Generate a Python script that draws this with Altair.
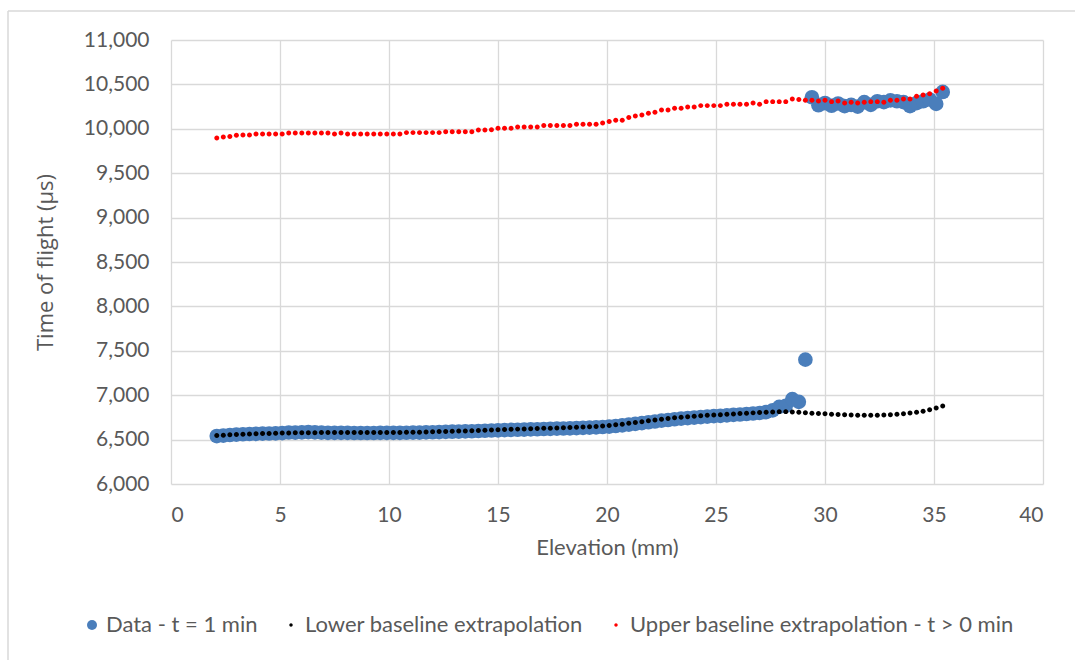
import altair as alt
import pandas as pd

elevation = [
    2.1, 2.4, 2.7, 3.0, 3.3, 3.6, 3.9, 4.2, 4.5, 4.8,
    5.1, 5.4, 5.7, 6.0, 6.3, 6.6, 6.9, 7.2, 7.5, 7.8,
    8.1, 8.4, 8.7, 9.0, 9.3, 9.6, 9.9, 10.2, 10.5, 10.8,
    11.1, 11.4, 11.7, 12.0, 12.3, 12.6, 12.9, 13.2, 13.5, 13.8,
    14.1, 14.4, 14.7, 15.0, 15.3, 15.6, 15.9, 16.2, 16.5, 16.8,
    17.1, 17.4, 17.7, 18.0, 18.3, 18.6, 18.9, 19.2, 19.5, 19.8,
    20.1, 20.4, 20.7, 21.0, 21.3, 21.6, 21.9, 22.2, 22.5, 22.8,
    23.1, 23.4, 23.7, 24.0, 24.3, 24.6, 24.9, 25.2, 25.5, 25.8,
    26.1, 26.4, 26.7, 27.0, 27.3, 27.6, 27.9, 28.2, 28.5, 28.8,
    29.1, 29.4, 29.7, 30.0, 30.3, 30.6, 30.9, 31.2, 31.5, 31.8,
    32.1, 32.4, 32.7, 33.0, 33.3, 33.6, 33.9, 34.2, 34.5, 34.8,
    35.1, 35.4,
]

data_t1 = [
    6540, 6545, 6552, 6556, 6560, 6563, 6565, 6567, 6569, 6571,
    6573, 6580, 6578, 6582, 6584, 6582, 6578, 6576, 6575, 6575,
    6575, 6574, 6574, 6574, 6574, 6575, 6575, 6575, 6576, 6577,
    6578, 6579, 6581, 6583, 6585, 6587, 6589, 6590, 6592, 6594,
    6597, 6600, 6602, 6604, 6606, 6609, 6611, 6613, 6615, 6617,
    6619, 6621, 6623, 6625, 6627, 6629, 6632, 6635, 6638, 6642,
    6647, 6653, 6660, 6668, 6677, 6686, 6695, 6704, 6713, 6721,
    6729, 6736, 6742, 6748, 6754, 6759, 6764, 6768, 6773, 6778,
    6783, 6788, 6794, 6800, 6810, 6830, 6868, 6880, 6955, 6925,
    7400, 10355, 10265, 10290, 10260, 10285, 10255, 10270, 10250, 10300,
    10270, 10310, 10300, 10320, 10310, 10300, 10255, 10290, 10310, 10330,
    10280, 10415,
]

lower_baseline = [
    6545, 6550, 6555, 6558, 6561, 6564, 6566, 6568, 6570, 6572,
    6574, 6575, 6576, 6577, 6578, 6578, 6579, 6579, 6579, 6579,
    6579, 6579, 6579, 6579, 6579, 6580, 6580, 6580, 6581, 6582,
    6583, 6584, 6586, 6588, 6590, 6592, 6594, 6596, 6598, 6600,
    6603, 6606, 6608, 6611, 6613, 6616, 6618, 6620, 6622, 6625,
    6627, 6629, 6631, 6633, 6635, 6638, 6641, 6644, 6648, 6653,
    6659, 6666, 6674, 6683, 6692, 6702, 6711, 6720, 6729, 6737,
    6745, 6752, 6758, 6764, 6769, 6773, 6777, 6781, 6785, 6789,
    6793, 6797, 6801, 6805, 6809, 6812, 6815, 6815, 6812, 6808,
    6803, 6798, 6794, 6790, 6786, 6782, 6779, 6777, 6775, 6774,
    6774, 6775, 6777, 6780, 6785, 6791, 6799, 6809, 6820, 6835,
    6855, 6878,
]

upper_baseline = [
    9897, 9908, 9912, 9927, 9931, 9931, 9942, 9942, 9942, 9942,
    9942, 9953, 9953, 9953, 9953, 9953, 9953, 9953, 9942, 9953,
    9942, 9942, 9942, 9942, 9942, 9942, 9942, 9942, 9942, 9957,
    9957, 9957, 9957, 9957, 9957, 9968, 9968, 9968, 9968, 9968,
    9987, 9987, 9990, 10006, 10006, 10006, 10021, 10021, 10021, 10021,
    10036, 10036, 10036, 10036, 10036, 10051, 10051, 10051, 10051, 10066,
    10081, 10096, 10096, 10126, 10145, 10156, 10175, 10186, 10212, 10212,
    10231, 10231, 10246, 10246, 10261, 10261, 10261, 10261, 10276, 10276,
    10276, 10276, 10291, 10276, 10306, 10306, 10306, 10306, 10336, 10329,
    10321, 10321, 10314, 10321, 10306, 10314, 10291, 10299, 10291, 10299,
    10306, 10306, 10299, 10321, 10321, 10336, 10336, 10366, 10381, 10396,
    10426, 10456,
]

series_names = [
    "Data - t = 1 min",
    "Lower baseline extrapolation",
    "Upper baseline extrapolation - t > 0 min",
]
series_colors = ["#4a7ebb", "#000000", "#ff0000"]
small_dot = "M -0.34,0 A 0.34,0.34 0 1,1 0.34,0 A 0.34,0.34 0 1,1 -0.34,0 Z"
series_shapes = ["circle", small_dot, small_dot]

x_ticks = [0, 5, 10, 15, 20, 25, 30, 35, 40]
y_ticks = [6000, 6500, 7000, 7500, 8000, 8500, 9000, 9500, 10000, 10500, 11000]

rows = []
for name, vals in zip(series_names, [data_t1, lower_baseline, upper_baseline]):
    for e, v in zip(elevation, vals):
        rows.append({"Elevation": e, "TOF": v, "Series": name})
df = pd.DataFrame(rows)

FONT = "Lato"
TXT = "#595959"

legend = alt.Legend(
    title=None,
    orient="none",
    direction="horizontal",
    legendX=-90,
    legendY=574,
    labelFontSize=22,
    labelFont=FONT,
    labelColor=TXT,
    labelLimit=0,
    columnPadding=22,
    labelOffset=3,
    symbolStrokeWidth=0,
)

points = alt.Chart(df).mark_point(filled=True, opacity=1, strokeWidth=0, size=215).encode(
    x=alt.X(
        "Elevation:Q",
        scale=alt.Scale(domain=[0, 40], nice=False, zero=False),
        axis=alt.Axis(values=x_ticks, title="Elevation (mm)", format="d"),
    ),
    y=alt.Y(
        "TOF:Q",
        scale=alt.Scale(domain=[6000, 11000], nice=False, zero=False),
        axis=alt.Axis(values=y_ticks, title="Time of flight (µs)", format=",.0f"),
    ),
    color=alt.Color(
        "Series:N",
        scale=alt.Scale(domain=series_names, range=series_colors),
        legend=legend,
    ),
    shape=alt.Shape(
        "Series:N",
        scale=alt.Scale(domain=series_names, range=series_shapes),
        legend=legend,
    ),
    order=alt.Order("idx:Q"),
).transform_window(idx="row_number()")

border_top = alt.Chart(pd.DataFrame({"k": [0]})).mark_rule(color="#d9d9d9", strokeWidth=1.5).encode(
    x=alt.value(-163), x2=alt.value(920), y=alt.value(-29)
)
border_left = alt.Chart(pd.DataFrame({"k": [0]})).mark_rule(color="#d9d9d9", strokeWidth=1.5).encode(
    x=alt.value(-163), y=alt.value(-29), y2=alt.value(640)
)

chart = alt.layer(border_top, border_left, points).properties(
    width=872,
    height=444,
    autosize=alt.AutoSizeParams(type="none"),
    padding={"left": 171, "top": 40, "right": 32, "bottom": 176},
    background="white",
).configure_view(stroke=None).configure_axis(
    grid=True,
    gridColor="#d9d9d9",
    gridWidth=1.3,
    domain=False,
    ticks=False,
    labelFont=FONT,
    labelFontSize=21,
    labelColor=TXT,
    titleFont=FONT,
    titleFontSize=22,
    titleFontWeight="normal",
    titleColor=TXT,
).configure_axisY(
    labelPadding=22,
    titlePadding=26,
    titleFont="Open Sans",
    titleFontSize=22,
).configure_axisX(
    labelPadding=20,
    titlePadding=12,
)

chart.save("out.html", embed_options={"renderer": "svg", "actions": False})
